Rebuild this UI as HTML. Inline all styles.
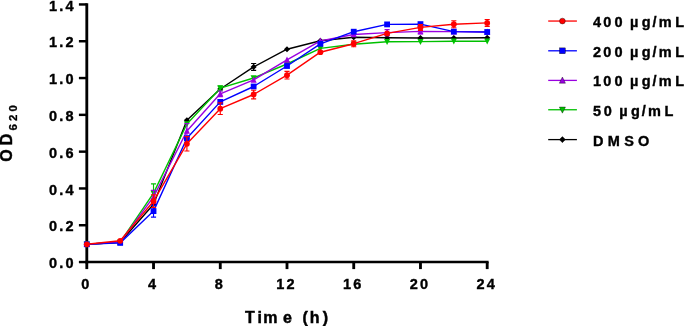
<!DOCTYPE html>
<html lang="en"><head><meta charset="utf-8"><title>Growth curve</title>
<style>html,body{margin:0;padding:0;background:#fff;overflow:hidden}svg{display:block}</style></head>
<body>
<svg width="684" height="326" viewBox="0 0 684 326" style="display:block">
<rect width="684" height="326" fill="#fff"/>
<g stroke="#000" fill="none" stroke-linecap="butt">
<path d="M86.8 3.23V263.27500000000003" stroke-width="2.85"/>
<path d="M85.375 262.05H488.62" stroke-width="2.45"/>
<path d="M78.9 262.05H86.8" stroke-width="2.45"/>
<path d="M78.9 225.25H86.8" stroke-width="2.45"/>
<path d="M78.9 188.45H86.8" stroke-width="2.45"/>
<path d="M78.9 151.65H86.8" stroke-width="2.45"/>
<path d="M78.9 114.85H86.8" stroke-width="2.45"/>
<path d="M78.9 78.05H86.8" stroke-width="2.45"/>
<path d="M78.9 41.25H86.8" stroke-width="2.45"/>
<path d="M78.9 4.45H86.8" stroke-width="2.45"/>
<path d="M86.80 262.05V269.1" stroke-width="2.85"/>
<path d="M153.53 262.05V269.1" stroke-width="2.85"/>
<path d="M220.27 262.05V269.1" stroke-width="2.85"/>
<path d="M287.00 262.05V269.1" stroke-width="2.85"/>
<path d="M353.73 262.05V269.1" stroke-width="2.85"/>
<path d="M420.47 262.05V269.1" stroke-width="2.85"/>
<path d="M487.20 262.05V269.1" stroke-width="2.85"/>
</g>
<g>
<path d="M253.63 63.50V70.30M251.08 63.50h5.1M251.08 70.30h5.1" stroke="#000000" stroke-width="1.15" fill="none"/>
<polyline points="86.80,244.30 120.17,242.20 153.53,204.30 186.90,120.30 220.27,89.00 253.63,66.90 287.00,49.20 320.37,40.70 353.73,37.30 387.10,37.80 420.47,38.00 453.83,38.00 487.20,37.70" fill="none" stroke="#000000" stroke-width="1.4" stroke-linejoin="round"/>
<polygon points="86.80,241.25 89.85,244.30 86.80,247.35 83.75,244.30" fill="#000000"/>
<polygon points="120.17,239.15 123.22,242.20 120.17,245.25 117.12,242.20" fill="#000000"/>
<polygon points="153.53,201.25 156.58,204.30 153.53,207.35 150.48,204.30" fill="#000000"/>
<polygon points="186.90,117.25 189.95,120.30 186.90,123.35 183.85,120.30" fill="#000000"/>
<polygon points="220.27,85.95 223.32,89.00 220.27,92.05 217.22,89.00" fill="#000000"/>
<polygon points="253.63,63.85 256.68,66.90 253.63,69.95 250.58,66.90" fill="#000000"/>
<polygon points="287.00,46.15 290.05,49.20 287.00,52.25 283.95,49.20" fill="#000000"/>
<polygon points="320.37,37.65 323.42,40.70 320.37,43.75 317.32,40.70" fill="#000000"/>
<polygon points="353.73,34.25 356.78,37.30 353.73,40.35 350.68,37.30" fill="#000000"/>
<polygon points="387.10,34.75 390.15,37.80 387.10,40.85 384.05,37.80" fill="#000000"/>
<polygon points="420.47,34.95 423.52,38.00 420.47,41.05 417.42,38.00" fill="#000000"/>
<polygon points="453.83,34.95 456.88,38.00 453.83,41.05 450.78,38.00" fill="#000000"/>
<polygon points="487.20,34.65 490.25,37.70 487.20,40.75 484.15,37.70" fill="#000000"/>
</g>
<g>
<path d="M153.53 183.80V202.40M150.98 183.80h5.1M150.98 202.40h5.1" stroke="#00c000" stroke-width="1.15" fill="none"/>
<path d="M220.27 85.70V90.70M217.72 85.70h5.1M217.72 90.70h5.1" stroke="#00c000" stroke-width="1.15" fill="none"/>
<polyline points="86.80,244.30 120.17,242.20 153.53,193.10 186.90,124.00 220.27,88.20 253.63,78.00 287.00,64.00 320.37,48.40 353.73,44.20 387.10,41.70 420.47,41.60 453.83,41.20 487.20,41.20" fill="none" stroke="#00c000" stroke-width="1.4" stroke-linejoin="round"/>
<polygon points="86.80,247.70 89.85,241.60 83.75,241.60" fill="#00c000"/>
<polygon points="120.17,245.60 123.22,239.50 117.12,239.50" fill="#00c000"/>
<polygon points="153.53,196.50 156.58,190.40 150.48,190.40" fill="#00c000"/>
<polygon points="186.90,127.40 189.95,121.30 183.85,121.30" fill="#00c000"/>
<polygon points="220.27,91.60 223.32,85.50 217.22,85.50" fill="#00c000"/>
<polygon points="253.63,81.40 256.68,75.30 250.58,75.30" fill="#00c000"/>
<polygon points="287.00,67.40 290.05,61.30 283.95,61.30" fill="#00c000"/>
<polygon points="320.37,51.80 323.42,45.70 317.32,45.70" fill="#00c000"/>
<polygon points="353.73,47.60 356.78,41.50 350.68,41.50" fill="#00c000"/>
<polygon points="387.10,45.10 390.15,39.00 384.05,39.00" fill="#00c000"/>
<polygon points="420.47,45.00 423.52,38.90 417.42,38.90" fill="#00c000"/>
<polygon points="453.83,44.60 456.88,38.50 450.78,38.50" fill="#00c000"/>
<polygon points="487.20,44.60 490.25,38.50 484.15,38.50" fill="#00c000"/>
</g>
<g>
<path d="M153.53 190.40V203.40M150.98 190.40h5.1M150.98 203.40h5.1" stroke="#9a00e0" stroke-width="1.15" fill="none"/>
<path d="M186.90 123.50V138.50M184.35 123.50h5.1M184.35 138.50h5.1" stroke="#9a00e0" stroke-width="1.15" fill="none"/>
<path d="M220.27 91.00V96.60M217.72 91.00h5.1M217.72 96.60h5.1" stroke="#9a00e0" stroke-width="1.15" fill="none"/>
<path d="M387.10 29.60V35.60M384.55 29.60h5.1M384.55 35.60h5.1" stroke="#9a00e0" stroke-width="1.15" fill="none"/>
<path d="M420.47 29.00V33.80M417.92 29.00h5.1M417.92 33.80h5.1" stroke="#9a00e0" stroke-width="1.15" fill="none"/>
<polyline points="86.80,244.30 120.17,242.20 153.53,196.90 186.90,131.00 220.27,93.80 253.63,79.90 287.00,59.90 320.37,40.90 353.73,34.50 387.10,32.60 420.47,31.40 453.83,31.60 487.20,32.00" fill="none" stroke="#9a00e0" stroke-width="1.4" stroke-linejoin="round"/>
<polygon points="86.80,240.90 89.85,247.10 83.75,247.10" fill="#9a00e0"/>
<polygon points="120.17,238.80 123.22,245.00 117.12,245.00" fill="#9a00e0"/>
<polygon points="153.53,193.50 156.58,199.70 150.48,199.70" fill="#9a00e0"/>
<polygon points="186.90,127.60 189.95,133.80 183.85,133.80" fill="#9a00e0"/>
<polygon points="220.27,90.40 223.32,96.60 217.22,96.60" fill="#9a00e0"/>
<polygon points="253.63,76.50 256.68,82.70 250.58,82.70" fill="#9a00e0"/>
<polygon points="287.00,56.50 290.05,62.70 283.95,62.70" fill="#9a00e0"/>
<polygon points="320.37,37.50 323.42,43.70 317.32,43.70" fill="#9a00e0"/>
<polygon points="353.73,31.10 356.78,37.30 350.68,37.30" fill="#9a00e0"/>
<polygon points="387.10,29.20 390.15,35.40 384.05,35.40" fill="#9a00e0"/>
<polygon points="420.47,28.00 423.52,34.20 417.42,34.20" fill="#9a00e0"/>
<polygon points="453.83,28.20 456.88,34.40 450.78,34.40" fill="#9a00e0"/>
<polygon points="487.20,28.60 490.25,34.80 484.15,34.80" fill="#9a00e0"/>
</g>
<g>
<path d="M153.53 205.10V217.10M150.98 205.10h5.1M150.98 217.10h5.1" stroke="#0000ff" stroke-width="1.15" fill="none"/>
<polyline points="86.80,244.30 120.17,242.90 153.53,211.10 186.90,138.20 220.27,101.90 253.63,86.50 287.00,66.00 320.37,43.80 353.73,31.70 387.10,24.40 420.47,24.10 453.83,31.60 487.20,32.00" fill="none" stroke="#0000ff" stroke-width="1.4" stroke-linejoin="round"/>
<rect x="83.90" y="241.40" width="5.8" height="5.8" fill="#0000ff"/>
<rect x="117.27" y="240.00" width="5.8" height="5.8" fill="#0000ff"/>
<rect x="150.63" y="208.20" width="5.8" height="5.8" fill="#0000ff"/>
<rect x="184.00" y="135.30" width="5.8" height="5.8" fill="#0000ff"/>
<rect x="217.37" y="99.00" width="5.8" height="5.8" fill="#0000ff"/>
<rect x="250.73" y="83.60" width="5.8" height="5.8" fill="#0000ff"/>
<rect x="284.10" y="63.10" width="5.8" height="5.8" fill="#0000ff"/>
<rect x="317.47" y="40.90" width="5.8" height="5.8" fill="#0000ff"/>
<rect x="350.83" y="28.80" width="5.8" height="5.8" fill="#0000ff"/>
<rect x="384.20" y="21.50" width="5.8" height="5.8" fill="#0000ff"/>
<rect x="417.57" y="21.20" width="5.8" height="5.8" fill="#0000ff"/>
<rect x="450.93" y="28.70" width="5.8" height="5.8" fill="#0000ff"/>
<rect x="484.30" y="29.10" width="5.8" height="5.8" fill="#0000ff"/>
</g>
<g>
<path d="M153.53 194.90V207.50M150.98 194.90h5.1M150.98 207.50h5.1" stroke="#ff0000" stroke-width="1.15" fill="none"/>
<path d="M186.90 136.60V151.00M184.35 136.60h5.1M184.35 151.00h5.1" stroke="#ff0000" stroke-width="1.15" fill="none"/>
<path d="M220.27 102.90V114.50M217.72 102.90h5.1M217.72 114.50h5.1" stroke="#ff0000" stroke-width="1.15" fill="none"/>
<path d="M253.63 90.20V98.80M251.08 90.20h5.1M251.08 98.80h5.1" stroke="#ff0000" stroke-width="1.15" fill="none"/>
<path d="M287.00 71.40V79.00M284.45 71.40h5.1M284.45 79.00h5.1" stroke="#ff0000" stroke-width="1.15" fill="none"/>
<path d="M353.73 40.70V46.70M351.18 40.70h5.1M351.18 46.70h5.1" stroke="#ff0000" stroke-width="1.15" fill="none"/>
<path d="M420.47 24.50V30.30M417.92 24.50h5.1M417.92 30.30h5.1" stroke="#ff0000" stroke-width="1.15" fill="none"/>
<path d="M453.83 20.70V27.70M451.28 20.70h5.1M451.28 27.70h5.1" stroke="#ff0000" stroke-width="1.15" fill="none"/>
<path d="M487.20 19.45V26.35M484.65 19.45h5.1M484.65 26.35h5.1" stroke="#ff0000" stroke-width="1.15" fill="none"/>
<polyline points="86.80,244.30 120.17,240.80 153.53,201.20 186.90,143.80 220.27,108.70 253.63,94.50 287.00,75.20 320.37,52.20 353.73,43.70 387.10,33.40 420.47,27.40 453.83,24.20 487.20,22.90" fill="none" stroke="#ff0000" stroke-width="1.4" stroke-linejoin="round"/>
<circle cx="86.80" cy="244.30" r="2.9" fill="#ff0000"/>
<circle cx="120.17" cy="240.80" r="2.9" fill="#ff0000"/>
<circle cx="153.53" cy="201.20" r="2.9" fill="#ff0000"/>
<circle cx="186.90" cy="143.80" r="2.9" fill="#ff0000"/>
<circle cx="220.27" cy="108.70" r="2.9" fill="#ff0000"/>
<circle cx="253.63" cy="94.50" r="2.9" fill="#ff0000"/>
<circle cx="287.00" cy="75.20" r="2.9" fill="#ff0000"/>
<circle cx="320.37" cy="52.20" r="2.9" fill="#ff0000"/>
<circle cx="353.73" cy="43.70" r="2.9" fill="#ff0000"/>
<circle cx="387.10" cy="33.40" r="2.9" fill="#ff0000"/>
<circle cx="420.47" cy="27.40" r="2.9" fill="#ff0000"/>
<circle cx="453.83" cy="24.20" r="2.9" fill="#ff0000"/>
<circle cx="487.20" cy="22.90" r="2.9" fill="#ff0000"/>
</g>
<g font-family="'Liberation Sans', Arial, sans-serif" font-weight="bold" fill="#000" stroke="#000" stroke-width="0.38">
<g font-size="14.5px" letter-spacing="2.2" text-anchor="end">
<text x="75.7" y="268.15">0.0</text>
<text x="75.7" y="231.35">0.2</text>
<text x="75.7" y="194.55">0.4</text>
<text x="75.7" y="157.75">0.6</text>
<text x="75.7" y="120.95">0.8</text>
<text x="75.7" y="84.15">1.0</text>
<text x="75.7" y="47.35">1.2</text>
<text x="75.7" y="10.55">1.4</text>
</g>
<g font-size="14.5px" letter-spacing="2.3" text-anchor="middle">
<text x="86.40" y="289.2">0</text>
<text x="153.13" y="289.2">4</text>
<text x="219.87" y="289.2">8</text>
<text x="286.60" y="289.2">12</text>
<text x="353.33" y="289.2">16</text>
<text x="420.07" y="289.2">20</text>
<text x="486.80" y="289.2">24</text>
</g>
<text x="245" y="323" font-size="16px" letter-spacing="3" stroke-width="0.45" dx="0 0 -1.75 2.65 0 0 -0.9 0">Time (h)</text>
<text transform="translate(11.7,161.8) rotate(-90)" font-size="16px" letter-spacing="3" stroke-width="0.45" dx="0 1">OD<tspan font-size="11.5px" dy="5.4" dx="0.3" letter-spacing="3.1" stroke-width="0.3">620</tspan></text>
<path d="M548.2 21.05H576.9" stroke="#ff0000" stroke-width="1.3" fill="none"/>
<circle cx="562.40" cy="21.05" r="2.9" fill="#ff0000"/>
<text x="593" y="27.00" font-size="14.5px" letter-spacing="2.7" dx="0 -0.4 0.4 0 -2.1 0.7 -0.7 -0.6 1.0">400 µg/mL</text>
<path d="M548.2 50.80H576.9" stroke="#0000ff" stroke-width="1.3" fill="none"/>
<rect x="559.50" y="47.90" width="5.8" height="5.8" fill="#0000ff"/>
<text x="593" y="56.75" font-size="14.5px" letter-spacing="2.7" dx="0 -0.4 0.4 0 -2.1 0.7 -0.7 -0.6 1.0">200 µg/mL</text>
<path d="M548.2 80.40H576.9" stroke="#9a00e0" stroke-width="1.3" fill="none"/>
<polygon points="562.40,77.00 565.45,83.20 559.35,83.20" fill="#9a00e0"/>
<text x="593" y="86.35" font-size="14.5px" letter-spacing="2.7" dx="0 -0.4 0.4 0 -2.1 0.7 -0.7 -0.6 1.0">100 µg/mL</text>
<path d="M548.2 109.75H576.9" stroke="#00c000" stroke-width="1.3" fill="none"/>
<polygon points="562.40,113.15 565.45,107.05 559.35,107.05" fill="#00c000"/>
<text x="593" y="115.70" font-size="14.5px" letter-spacing="2.7" dx="0 0 0 -2.1 0.7 -0.7 -0.6 1.0">50 µg/mL</text>
<path d="M548.2 139.60H576.9" stroke="#000000" stroke-width="1.3" fill="none"/>
<polygon points="562.40,136.55 565.45,139.60 562.40,142.65 559.35,139.60" fill="#000000"/>
<text x="593" y="145.55" font-size="14.5px" letter-spacing="4.3" dx="0">DMSO</text>
</g>
</svg>
</body></html>
